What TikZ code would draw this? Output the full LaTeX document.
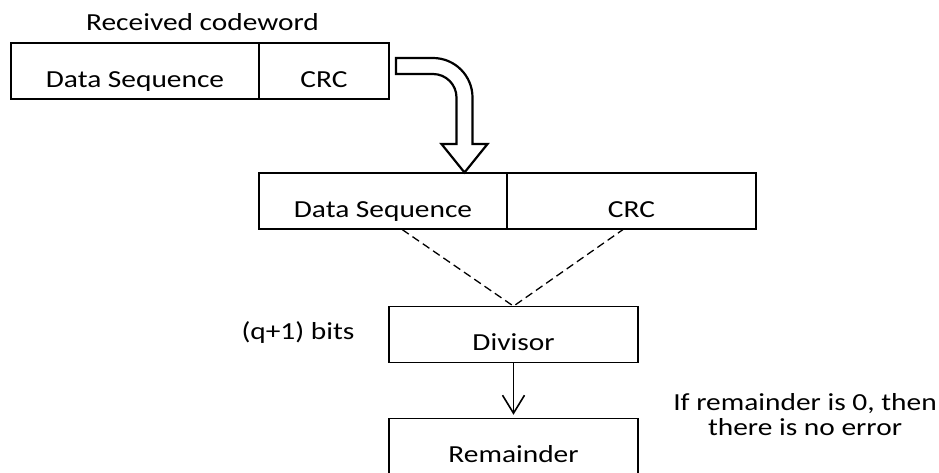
\documentclass[tikz,border=0pt]{standalone}
\usepackage{fontspec}
\setmainfont{Carlito}[FakeStretch=1.2]
\usetikzlibrary{arrows.meta,calc}
\begin{document}
\begin{tikzpicture}[x=1pt,y=-1pt,
  box/.style={draw, line width=1.1pt, minimum height=56pt, inner sep=0pt, text height=32pt, text depth=0pt, font=\fontsize{24.5}{29}\selectfont},
  lbl/.style={font=\fontsize{24.5}{25}\selectfont, inner sep=0pt, anchor=base},
  dashline/.style={line width=1.3pt, dash pattern=on 8pt off 4.5pt},
  bigarrow/.style={draw, fill=white, line width=2.2pt, line join=miter},
  flow/.style={line width=1.6pt, -{Straight Barb[length=18pt,width=22pt]}, shorten >=3pt},
]
\fill[white] (0,0) rectangle (939,472);
\useasboundingbox (0,0) rectangle (939,472);

\node[box, minimum width=248pt] (ds1) at (135,71) {Data Sequence};
\node[box, minimum width=130pt] (crc1) at (324,71) {CRC};
\node[box, minimum width=248pt] (ds2) at (383,201) {Data Sequence};
\node[box, minimum width=249pt] (crc2) at (631.5,201) {CRC};
\node[box, minimum width=249pt] (div) at (513.5,334.7) {Divisor};
\node[box, minimum width=249pt] (rem) at (513.5,446.3) {Remainder};

\node[lbl] (rc) at (202.5,30) {Received codeword};
\node[lbl] (bits) at (298,339) {(q+1) bits};
\node[lbl] (note1) at (805,410) {If remainder is 0, then};
\node[lbl] (note2) at (805,435) {there is no error};

\draw[bigarrow] (396,58) -- (433,58) arc[start angle=-90, end angle=0, radius=39.5]
  -- (472.5,144) -- (487.5,144) -- (464.5,172.5) -- (441.5,144) -- (456.5,144)
  -- (456.5,97.5) arc[start angle=0, end angle=-90, radius=23.5] -- (396,74) -- cycle;

\coordinate (dsa) at ($(ds2.south west)!0.577!(ds2.south east)$);
\coordinate (crcb) at ($(crc2.south west)!0.466!(crc2.south east)$);
\draw[dashline] (dsa) -- (div.north) -- (crcb);

\draw[flow] (div.south) -- (rem.north);
\end{tikzpicture}
\end{document}
